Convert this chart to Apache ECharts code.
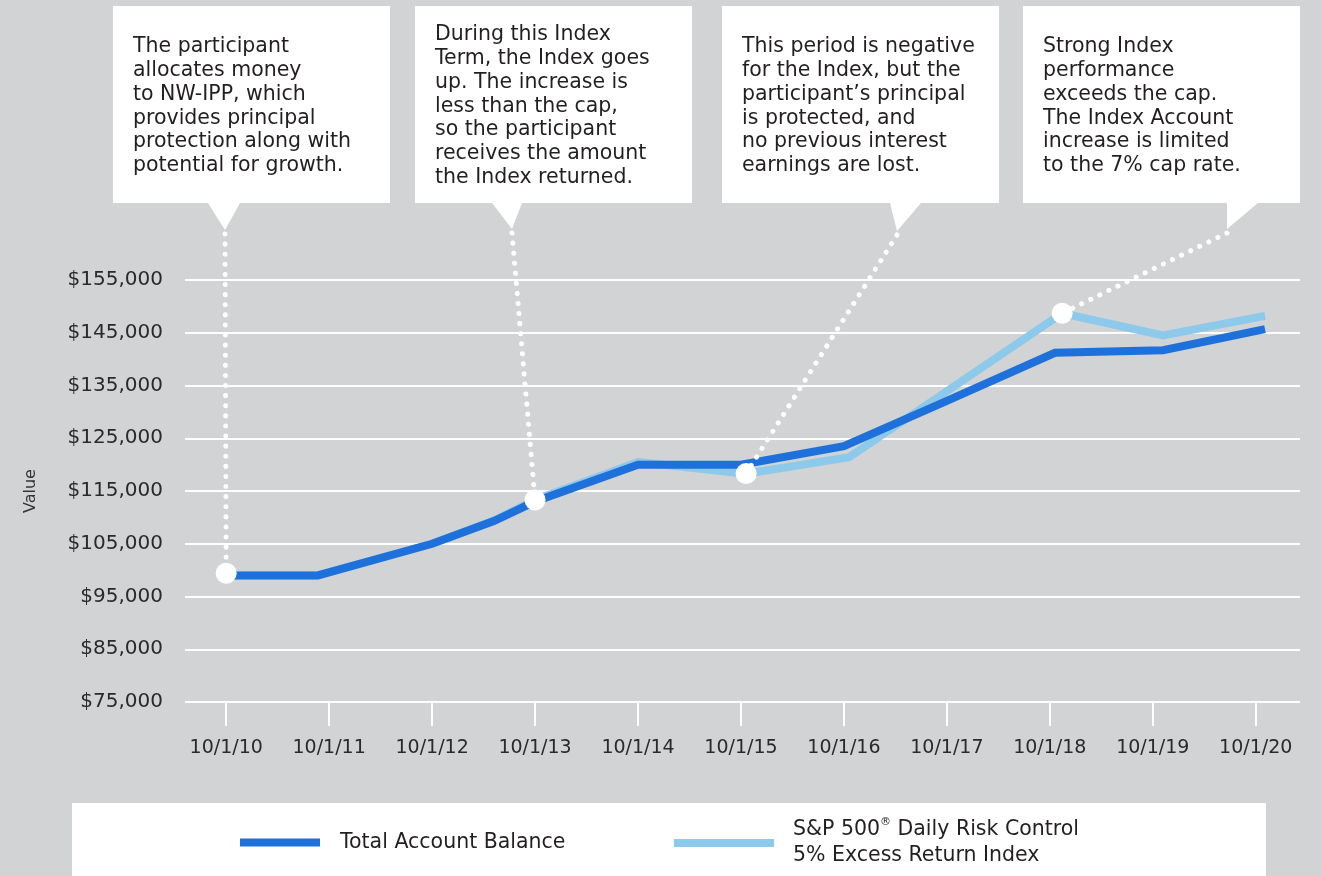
<!DOCTYPE html>
<html>
<head>
<meta charset="utf-8">
<script src="https://cdn.jsdelivr.net/npm/echarts@6/dist/echarts.min.js"></script>
<style>
  html, body { margin: 0; padding: 0; background: #d1d3d4; }
  #chart { width: 1321px; height: 876px; }
</style>
</head>
<body>
<div id="chart"></div>
<script>
// x positions are in years since 10/1/10 (0 = 10/1/10, 10 = 10/1/20)
const xLabels = ['10/1/10', '10/1/11', '10/1/12', '10/1/13', '10/1/14', '10/1/15',
                 '10/1/16', '10/1/17', '10/1/18', '10/1/19', '10/1/20']

const balanceT = [0, 0.89, 2, 2.6, 3, 4, 5, 6, 7, 8.05, 9.1, 10.09]
const balanceV = [99000, 99000, 105000, 109300, 113000, 120000, 120000, 123500, 132100, 141200, 141700, 145700]

const indexT = [0, 0.89, 2, 2.6, 3, 4, 5.05, 6.05, 7, 8.12, 9.1, 10.09]
const indexV = [99000, 99000, 105000, 109400, 113300, 120500, 118300, 121400, 133900, 148700, 144500, 148200]

// highlighted points the callouts refer to
const highlightT = [0, 3, 5.05, 8.12]
const highlightV = [99400, 113300, 118300, 148700]

const yTicks = { min: 75000, max: 155000, step: 10000 }

const calloutTexts = [
  ['The participant', 'allocates money', 'to NW-IPP, which', 'provides principal',
   'protection along with', 'potential for growth.'],
  ['During this Index', 'Term, the Index goes', 'up. The increase is', 'less than the cap,',
   'so the participant', 'receives the amount', 'the Index returned.'],
  ['This period is negative', 'for the Index, but the', 'participant\u2019s principal',
   'is protected, and', 'no previous interest', 'earnings are lost.'],
  ['Strong Index', 'performance', 'exceeds the cap.', 'The Index Account',
   'increase is limited', 'to the 7% cap rate.']
]

const balanceName = 'Total Account Balance'
const indexName = 'S&P 500\u00ae Daily Risk Control 5% Excess Return Index'

const FONT = '"DejaVu Sans", "Noto Sans", sans-serif'
const TEXT = '#231f20'
const DARK = '#1e71da'
const LIGHT = '#8dc9ea'

const zip = (a, b) => a.map((v, i) => [v, b[i]])

const chart = echarts.init(document.getElementById('chart'))

const option = {
  backgroundColor: '#d1d3d4'
  , animation: false
  , grid: {
    left: 185, right: 21, top: 280, bottom: 174
    , outerBoundsMode: 'none'
  }
  , xAxis: {
    type: 'value'
    , min: -0.4
    , max: 10.43
    , axisLine: { show: false }
    , splitLine: { show: false }
    , axisTick: {
      show: true
      , customValues: xLabels.map((_, i) => i)
      , length: 24
      , lineStyle: { color: '#fff', width: 2 }
    }
    , axisLabel: {
      customValues: xLabels.map((_, i) => i)
      , formatter: (v) => xLabels[Math.round(v)]
      , margin: 37
      , fontSize: 19
      , fontFamily: FONT
      , color: '#2a2a2a'
    }
  }
  , yAxis: {
    type: 'value'
    , min: yTicks.min
    , max: yTicks.max
    , interval: yTicks.step
    , name: 'Value'
    , nameLocation: 'middle'
    , nameGap: 146
    , nameTextStyle: { fontSize: 16, fontFamily: FONT, color: '#333' }
    , axisLine: { show: false }
    , axisTick: { show: false }
    , splitLine: { lineStyle: { color: '#fff', width: 2 } }
    , axisLabel: {
      formatter: (v) => '$' + v.toLocaleString('en-US')
      , margin: 22
      , fontSize: 20
      , fontFamily: FONT
      , color: '#2a2a2a'
    }
  }
  , legend: [{
      data: [balanceName]
      , left: 240, top: 832, padding: 0
      , icon: 'rect', itemWidth: 80, itemHeight: 8
      , textStyle: { fontSize: 20.5, fontFamily: FONT, color: TEXT, padding: [0, 0, 0, 15] }
      , selectedMode: false
    }, {
      data: [indexName]
      , left: 674, top: 817, padding: 0
      , icon: 'rect', itemWidth: 100, itemHeight: 8
      , formatter: () => '{a|S&P 500}{r|\u00ae}{a| Daily Risk Control}\n{a|5% Excess Return Index}'
      , textStyle: {
        fontSize: 20.5, fontFamily: FONT, color: TEXT, padding: [0, 0, 0, 14]
        , rich: {
          a: { fontSize: 20.5, fontFamily: FONT, color: TEXT, lineHeight: 26 }
          , r: { fontSize: 11, fontFamily: FONT, color: TEXT, verticalAlign: 'top', lineHeight: 26 }
        }
      }
      , selectedMode: false
    }]
  , series: [
    {
      name: indexName
      , type: 'line'
      , data: zip(indexT, indexV)
      , symbol: 'none'
      , color: LIGHT
      , lineStyle: { width: 8, color: LIGHT, join: 'miter' }
      , z: 2
    }
    , {
      name: balanceName
      , type: 'line'
      , data: zip(balanceT, balanceV)
      , symbol: 'none'
      , color: DARK
      , lineStyle: { width: 8, color: DARK, join: 'miter' }
      , z: 3
    }
    , {
      type: 'scatter'
      , data: zip(highlightT, highlightV)
      , symbolSize: 21
      , itemStyle: { color: '#fff', opacity: 1 }
      , z: 6
      , silent: true
    }
  ]
}

chart.setOption(option)

// callout boxes: [left, top, width, height], pointer triangle (last point is the tip)
const boxes = [
  { rect: [113, 6, 277, 197], tri: [[208, 203], [240, 203], [225, 230]], textTop: 35 }
  , { rect: [415, 6, 277, 197], tri: [[492, 203], [522, 203], [512, 229]], textTop: 23 }
  , { rect: [722, 6, 277, 197], tri: [[890, 203], [921, 203], [897, 231]], textTop: 35 }
  , { rect: [1023, 6, 277, 197], tri: [[1227, 203], [1258, 203], [1227, 229]], textTop: 35 }
]

const graphics = []

// legend panel
graphics.push({
  type: 'rect'
  , shape: { x: 72, y: 803, width: 1194, height: 90 }
  , style: { fill: '#fff' }
  , z: 0
})

boxes.forEach((b, i) => {
  const dot = chart.convertToPixel({ gridIndex: 0 }, [highlightT[i], highlightV[i]])
  const tip = b.tri[2]
  graphics.push({
    type: 'line'
    , shape: { x1: tip[0], y1: tip[1] + 4, x2: dot[0], y2: dot[1] }
    , style: { stroke: '#fff', lineWidth: 5, lineDash: [0.1, 10], lineCap: 'round' }
    , z: 5
  })
  graphics.push({
    type: 'rect'
    , shape: { x: b.rect[0], y: b.rect[1], width: b.rect[2], height: b.rect[3] }
    , style: { fill: '#fff' }
    , z: 10
  })
  graphics.push({
    type: 'polygon'
    , shape: { points: b.tri }
    , style: { fill: '#fff' }
    , z: 10
  })
  graphics.push({
    type: 'text'
    , x: b.rect[0] + 20
    , y: b.textTop
    , style: {
      text: calloutTexts[i].join('\n')
      , fontSize: 20.5
      , fontFamily: FONT
      , lineHeight: 23.8
      , fill: TEXT
      , verticalAlign: 'top'
    }
    , z: 11
  })
})

chart.setOption({ graphic: graphics })
</script>
</body>
</html>
